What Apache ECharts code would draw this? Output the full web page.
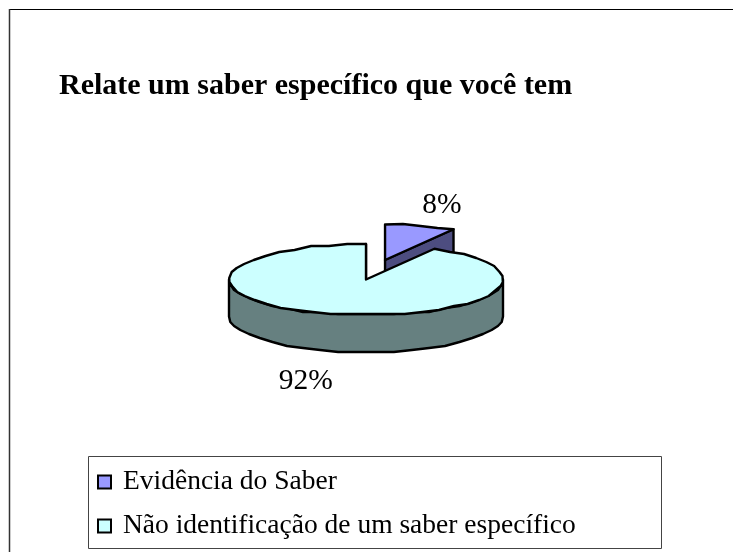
<!DOCTYPE html>
<html>
<head>
<meta charset="utf-8">
<style>html,body{margin:0;padding:0;background:#fff}#c{width:733px;height:552px}</style>
<script src="https://cdn.jsdelivr.net/npm/echarts@6/dist/echarts.min.js"></script>
</head>
<body>
<div id="c"></div>
<script>
const chartTitle = 'Relate um saber específico que você tem';
const categories = ['Evidência do Saber', 'Não identificação de um saber específico'];
const percentages = [8.33, 91.67];
const topColors = ['#9999FF', '#CCFFFF'];
const sideColors = ['#4D4D80', '#668080'];
// presentation of the tilted pie, in the unit-circle space of the hidden axes
const explode = [[0.139, 0.55], [0, 0]];
const depth = 1.042;
const labelAnchors = [[0.555, 2.09], [-0.44, -2.86]];

const FONT = '"Liberation Serif","Times New Roman",serif';
const total = percentages.reduce((a, b) => a + b, 0);
let acc = 0;
const spans = percentages.map(v => { const s = [acc / total, (acc + v) / total]; acc += v; return s; });

function makeRender(i) {
  return function (params, api) {
    const start = api.value(0) * 2 * Math.PI, end = api.value(1) * 2 * Math.PI;
    const [ox, oy] = explode[i];
    const pt = (a, r, d) => api.coord([ox + r * Math.sin(a), oy + r * Math.cos(a) - (d || 0)]);
    // the reference's rim is a coarse polyline whose vertices sit on a small raster
    const snap = p => [p[0], Math.round(p[1] / 2) * 2];
    const arc = (a0, a1, d) => {
      const n = Math.max(2, Math.ceil(Math.abs(a1 - a0) / 0.14)), out = [];
      for (let k = 0; k <= n; k++) {
        const p = pt(a0 + (a1 - a0) * k / n, 1, d);
        out.push(k === 0 || k === n ? p : snap(p));
      }
      return out;
    };
    const stroke = { stroke: '#000', lineWidth: 2.4, lineJoin: 'round' };
    const children = [];
    // face of the closing radial cut
    children.push({ type: 'polygon', shape: { points: [pt(end, 0), pt(end, 1), pt(end, 1, depth), pt(end, 0, depth)] },
      style: Object.assign({ fill: sideColors[i] }, stroke) });
    // outer rim on the front half of the circle
    const fa = Math.max(start, Math.PI / 2), fb = Math.min(end, 3 * Math.PI / 2);
    if (fb > fa) {
      children.push({ type: 'polygon', shape: { points: arc(fa, fb, 0).concat(arc(fb, fa, depth)) },
        style: Object.assign({ fill: sideColors[i] }, stroke) });
    }
    // top face
    children.push({ type: 'polygon', shape: { points: [pt(0, 0)].concat(arc(start, end, 0)) },
      style: Object.assign({ fill: topColors[i] }, stroke) });
    // percentage label
    const lab = api.coord(labelAnchors[i]);
    children.push({ type: 'text', x: lab[0], y: lab[1],
      style: { text: Math.round(percentages[i]) + '%', font: '29.5px ' + FONT, fill: '#000', align: 'center', verticalAlign: 'middle' } });
    return { type: 'group', children };
  };
}

const chart = echarts.init(document.getElementById('c'), null, { renderer: 'canvas' });
chart.setOption({
  animation: false,
  backgroundColor: '#fff',
  title: { text: chartTitle, left: 59, top: 71, padding: 0,
    textStyle: { fontFamily: FONT, fontSize: 30, fontWeight: 'bold', color: '#000' } },
  grid: { left: 229, top: 244, width: 274, height: 71 },
  xAxis: { type: 'value', min: -1, max: 1, show: false },
  yAxis: { type: 'value', min: -1, max: 1, show: false },
  legend: {
    data: categories, orient: 'vertical', left: 97, top: 468, padding: 0,
    itemWidth: 13, itemHeight: 13, itemGap: 16, icon: 'rect', selectedMode: false,
    itemStyle: { borderColor: '#000', borderWidth: 2 },
    textStyle: { fontFamily: FONT, fontSize: 27.5, color: '#000', padding: [0, 0, 0, 7], lineHeight: 28 }
  },
  graphic: [
    { type: 'line', silent: true, shape: { x1: 9, y1: 9.5, x2: 733, y2: 9.5 }, style: { stroke: '#000', lineWidth: 1 } },
    { type: 'line', silent: true, shape: { x1: 9.5, y1: 9, x2: 9.5, y2: 552 }, style: { stroke: '#333', lineWidth: 1.5 } },
    { type: 'rect', silent: true, shape: { x: 88.5, y: 456.5, width: 573, height: 92 }, style: { fill: 'none', stroke: '#444', lineWidth: 1 } }
  ],
  series: categories.map((name, i) => ({
    type: 'custom', name, coordinateSystem: 'cartesian2d', silent: true, clip: false,
    itemStyle: { color: topColors[i] },
    encode: { x: 0, y: 1 },
    data: [spans[i]],
    renderItem: makeRender(i)
  }))
});
</script>
</body>
</html>
